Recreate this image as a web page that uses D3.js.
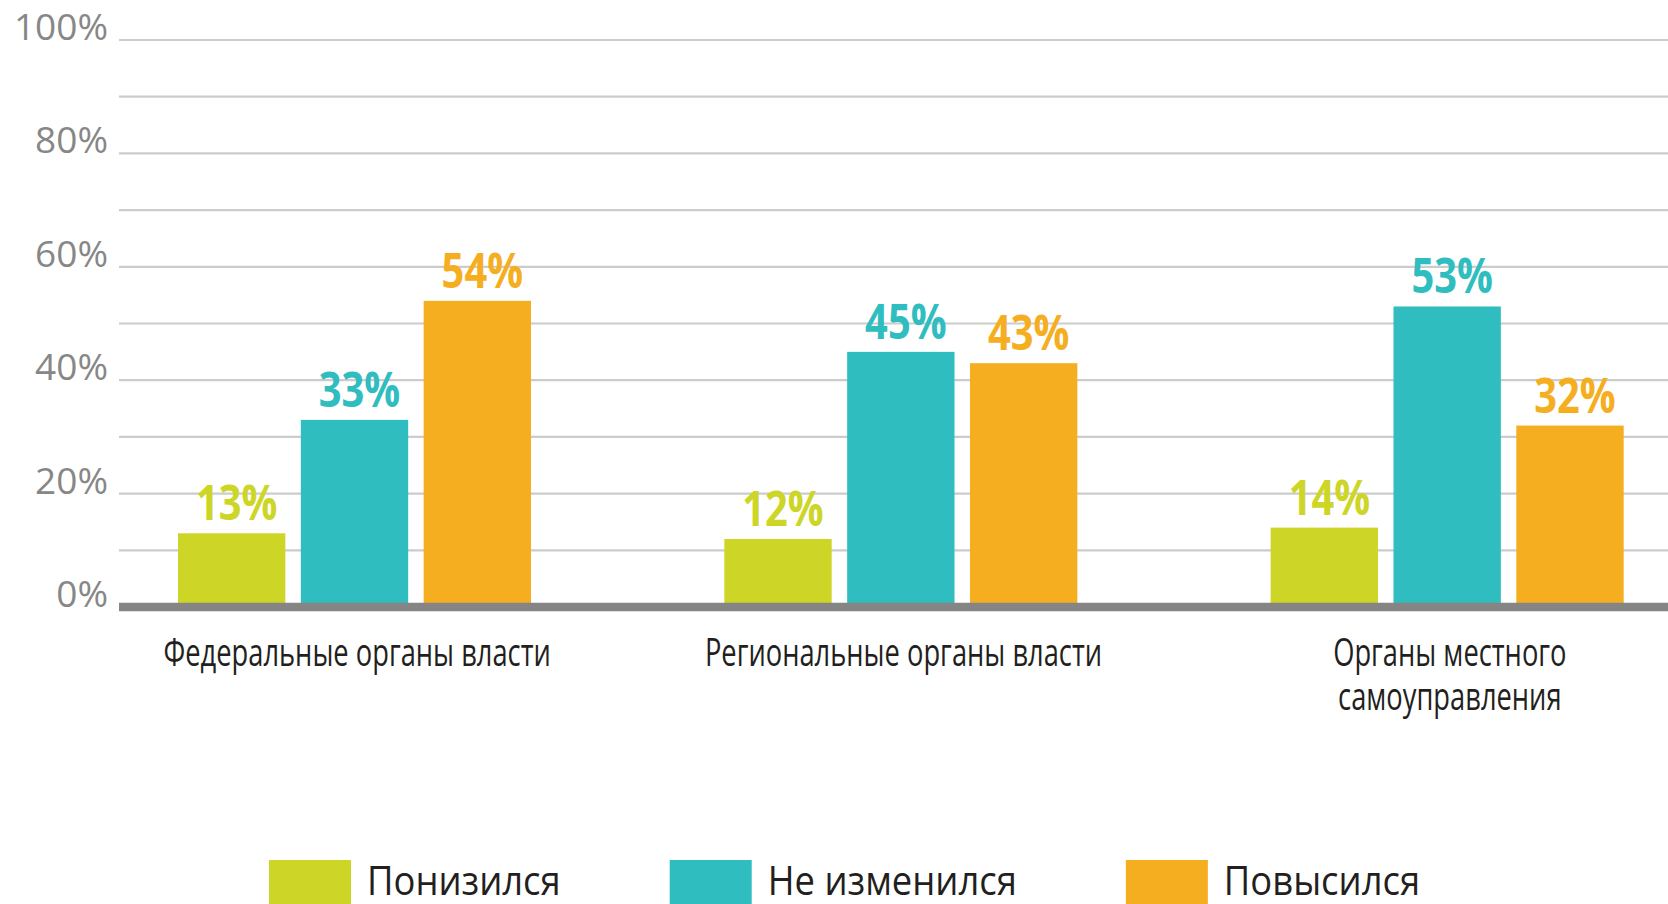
<!DOCTYPE html>
<html>
<head>
<meta charset="utf-8">
<script src="https://cdn.jsdelivr.net/npm/d3@7"></script>
<style>
  body { margin: 0; background: #fff; }
  svg { display: block; }
</style>
</head>
<body>
<script>
var categories = ["Федеральные органы власти", "Региональные органы власти", "Органы местного самоуправления"];
var categoryLines = [["Федеральные органы власти"], ["Региональные органы власти"], ["Органы местного", "самоуправления"]];
var series = ["Понизился", "Не изменился", "Повысился"];
var loweredValues = [13, 12, 14];
var unchangedValues = [33, 45, 53];
var raisedValues = [54, 43, 32];
var tickValues = [0, 20, 40, 60, 80, 100];
var gridValues = [10, 30, 50, 70, 90];
var colors = ["#cdd627", "#2fbdbf", "#f5ae1f"];

var width = 1668,
    height = 904;

var seriesValues = [loweredValues, unchangedValues, raisedValues];

// no condensed face is installed, so text gets squeezed horizontally
var font = "'Open Sans', sans-serif";

var svg = d3.select("body").append("svg")
    .attr("width", width)
    .attr("height", height);

var y = d3.scaleLinear()
    .domain([0, 100])
    .range([607, 40]);

var x0 = d3.scaleBand()
    .domain(categories)
    .range([81, 1720]);

var x1 = d3.scaleBand()
    .domain(series)
    .range([97, 450])
    .paddingInner(0.126);

var color = d3.scaleOrdinal()
    .domain(series)
    .range(colors);

// grid lines
svg.append("g")
  .selectAll("line")
    .data(tickValues.concat(gridValues))
  .enter().append("line")
    .attr("x1", 119)
    .attr("x2", width)
    .attr("y1", function(d) { return y(d); })
    .attr("y2", function(d) { return y(d); })
    .attr("stroke", "#cccccc")
    .attr("stroke-width", 2.2);

// y tick labels
svg.append("g")
  .selectAll("text")
    .data(tickValues)
  .enter().append("text")
    .attr("x", 108)
    .attr("y", function(d) { return y(d); })
    .attr("text-anchor", "end")
    .style("font-family", font)
    .style("font-size", "37px")
    .style("fill", "#878787")
    .text(function(d) { return d + "%"; });

// flatten rows for bars
var rows = [];
categories.forEach(function(c, i) {
  series.forEach(function(s, j) {
    rows.push({category: c, series: s, value: seriesValues[j][i]});
  });
});

var bars = svg.append("g")
  .selectAll("g")
    .data(rows)
  .enter().append("g")
    .attr("transform", function(d) { return "translate(" + (x0(d.category) + x1(d.series)) + ",0)"; });

bars.append("rect")
    .attr("x", 0)
    .attr("width", x1.bandwidth())
    .attr("y", function(d) { return y(d.value); })
    .attr("height", function(d) { return y(0) - y(d.value); })
    .attr("fill", function(d) { return color(d.series); });

bars.append("text")
    .attr("transform", function(d) {
      return "translate(" + (x1.bandwidth() / 2 + 5) + "," + (y(d.value) - 13) + ") scale(0.83,1)";
    })
    .attr("text-anchor", "middle")
    .style("font-family", font)
    .style("font-weight", "bold")
    .style("font-size", "48px")
    .style("fill", function(d) { return color(d.series); })
    .text(function(d) { return d.value + "%"; });

// x axis base line
svg.append("line")
    .attr("x1", 119)
    .attr("x2", width)
    .attr("y1", y(0))
    .attr("y2", y(0))
    .attr("stroke", "#858585")
    .attr("stroke-width", 8.5);

// category labels
var catLabels = svg.append("g")
  .selectAll("text")
    .data(categories)
  .enter().append("text")
    .attr("transform", function(d) {
      return "translate(" + (x0(d) + x0.bandwidth() / 2 + 3) + ",666) scale(0.7,1)";
    })
    .attr("text-anchor", "middle")
    .style("font-family", font)
    .style("font-size", "39px")
    .style("fill", "#231f20");

catLabels.selectAll("tspan")
    .data(function(d, i) { return categoryLines[i]; })
  .enter().append("tspan")
    .attr("x", 0)
    .attr("dy", function(d, i) { return i ? 44 : 0; })
    .text(function(d) { return d; });

// legend, laid out one item after another
var legend = svg.append("g");
var lx = 269, legendScale = 0.91;
series.forEach(function(s) {
  legend.append("rect")
      .attr("x", lx)
      .attr("y", 860)
      .attr("width", 82)
      .attr("height", 82)
      .attr("fill", color(s));
  var t = legend.append("text")
      .attr("transform", "translate(" + (lx + 98) + ",895) scale(" + legendScale + ",1)")
      .style("font-family", font)
      .style("font-size", "40px")
      .style("fill", "#231f20")
      .text(s);
  lx += 98 + t.node().getComputedTextLength() * legendScale + 109;
});
</script>
</body>
</html>
